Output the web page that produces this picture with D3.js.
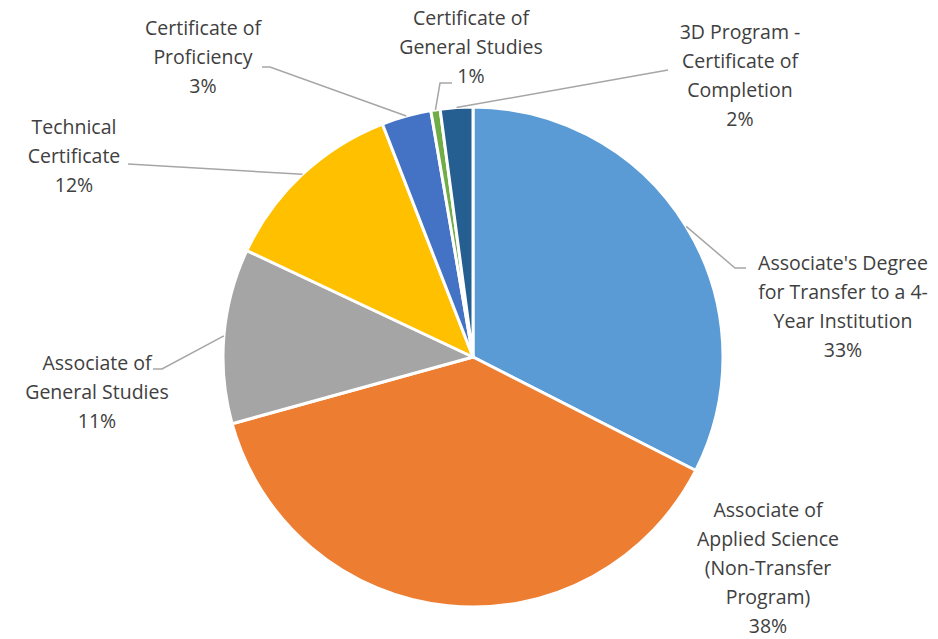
<!DOCTYPE html>
<html>
<head>
<meta charset="utf-8">
<script src="https://cdn.jsdelivr.net/npm/d3@7"></script>
<style>
  body { margin: 0; background: #fff; }
  text { font-family: "Open Sans", Lato, sans-serif; fill: #404040; }
</style>
</head>
<body>
<div id="chart"></div>
<script>
// Slice data, clockwise from 12 o'clock
const categories = [
    "Associate's Degree for Transfer to a 4-Year Institution",
    "Associate of Applied Science (Non-Transfer Program)",
    "Associate of General Studies",
    "Technical Certificate",
    "Certificate of Proficiency",
    "Certificate of General Studies",
    "3D Program - Certificate of Completion"
];
const values = [32.5, 38.2, 11.3, 12.1, 3.2, 0.6, 2.1];
const percentLabels = ["33%", "38%", "11%", "12%", "3%", "1%", "2%"];
const colors = ["#5B9BD5", "#ED7D31", "#A5A5A5", "#FFC000", "#4472C4", "#70AD47", "#255E91"];

// label lines as wrapped in the original
const labelLines = [
    ["Associate's Degree", "for Transfer to a 4-", "Year Institution"],
    ["Associate of", "Applied Science", "(Non-Transfer", "Program)"],
    ["Associate of", "General Studies"],
    ["Technical", "Certificate"],
    ["Certificate of", "Proficiency"],
    ["Certificate of", "General Studies"],
    ["3D Program -", "Certificate of", "Completion"]
];

const width = 938, height = 639;
const cx = 473, cy = 357, radius = 250;
const lineH = 29;

// label placement: centre x, first baseline y, leader (bend point + text-side end) or null
const labelPos = [
    { x: 843, y: 270, leader: [[735, 268], [746, 268]] },
    { x: 768, y: 517, leader: null },
    { x: 97, y: 370, leader: [[162, 369], [153, 369]] },
    { x: 74, y: 134, leader: [[128, 164], [128, 164]] },
    { x: 203, y: 35, leader: [[270, 67], [262, 67]] },
    { x: 471, y: 25, leader: [[440, 83], [452, 83]] },
    { x: 740, y: 39, leader: [[668, 70], [668, 70]] }
];

const data = categories.map((c, i) => ({
    name: c, value: values[i], pct: percentLabels[i], color: colors[i],
    lines: labelLines[i], pos: labelPos[i]
}));

const svg = d3.select("#chart")
    .append("svg")
    .attr("width", width)
    .attr("height", height);

const g = svg.append("g")
    .attr("transform", `translate(${cx},${cy})`);

const pie = d3.pie()
    .sort(null)
    .value(d => d.value);

const arc = d3.arc()
    .innerRadius(0)
    .outerRadius(radius);

const arcs = pie(data);

// Slices
g.selectAll("path.slice")
    .data(arcs)
    .enter()
    .append("path")
    .attr("class", "slice")
    .attr("d", arc)
    .attr("fill", d => d.data.color)
    .attr("stroke", "#fff")
    .attr("stroke-width", 3)
    .attr("stroke-linejoin", "round");

// Leader lines
arcs.forEach(d => {
    const p = d.data.pos;
    if (!p.leader) return;
    const mid = (d.startAngle + d.endAngle) / 2;
    const sx = cx + radius * Math.sin(mid);
    const sy = cy - radius * Math.cos(mid);
    const pts = [[sx, sy], p.leader[0], p.leader[1]];
    svg.append("path")
        .attr("d", d3.line()(pts))
        .attr("fill", "none")
        .attr("stroke", "#A6A6A6")
        .attr("stroke-width", 1.5);
});

// Labels
arcs.forEach(d => {
    const p = d.data.pos;
    const t = svg.append("text")
        .attr("text-anchor", "middle")
        .style("font-size", "19.5px");
    d.data.lines.concat([d.data.pct]).forEach((ln, i) => {
        t.append("tspan")
            .attr("x", p.x)
            .attr("y", p.y + i * lineH)
            .text(ln);
    });
});
</script>
</body>
</html>
